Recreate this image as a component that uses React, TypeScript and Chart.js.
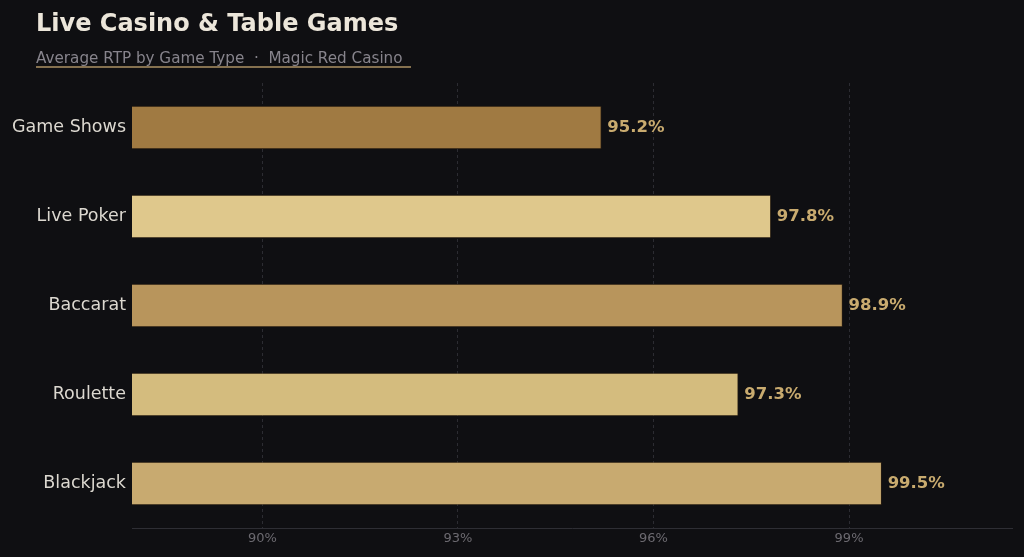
import React, { useEffect, useRef } from "react";
import { Chart, registerables } from "chart.js";

Chart.register(...registerables);

const categories = ["Game Shows", "Live Poker", "Baccarat", "Roulette", "Blackjack"];
const rtpValues = [95.2, 97.8, 98.9, 97.3, 99.5];
const barColors = ["#a07a42", "#dfc88c", "#b8955c", "#d4bc7e", "#c8aa70"];
const xTickValues = [90, 93, 96, 99];
const xMin = 88;
const xMax = 101.5;

const FONT = "'DejaVu Sans', sans-serif";

const valueLabelPlugin = {
  id: "valueLabels",
  afterDatasetsDraw(chart: any) {
    const ctx = chart.ctx;
    const meta = chart.getDatasetMeta(0);
    ctx.save();
    ctx.font = `bold 16.5px ${FONT}`;
    ctx.fillStyle = "#c9ab6f";
    ctx.textAlign = "left";
    ctx.textBaseline = "middle";
    meta.data.forEach((bar: any, i: number) => {
      ctx.fillText(rtpValues[i].toFixed(1) + "%", bar.x + 6, bar.y);
    });
    ctx.restore();
  },
};

export default function App() {
  const canvasRef = useRef<HTMLCanvasElement>(null);

  useEffect(() => {
    document.body.style.margin = "0";
    document.body.style.background = "#0f0f12";
    const chart = new Chart(canvasRef.current!, {
      type: "bar",
      data: {
        labels: categories,
        datasets: [
          {
            data: rtpValues,
            backgroundColor: barColors,
            borderColor: "rgba(60,40,15,0.45)",
            borderWidth: 1,
            barThickness: 43,
            base: xMin,
          } as any,
        ],
      },
      options: {
        indexAxis: "y",
        animation: false,
        responsive: false,
        maintainAspectRatio: false,
        layout: { padding: { top: 83, right: 12, bottom: 0, left: 0 } },
        plugins: { legend: { display: false }, tooltip: { enabled: false } },
        scales: {
          x: {
            min: xMin,
            max: xMax,
            afterBuildTicks(scale: any) {
              scale.ticks = xTickValues.map((v) => ({ value: v }));
            },
            afterFit(scale: any) {
              scale.height = 29;
            },
            ticks: {
              color: "#6c6a70",
              font: { family: FONT, size: 13 },
              padding: 3,
              callback: (v: any) => v + "%",
            },
            grid: { color: "#2c2c32", drawTicks: false, lineWidth: 1 },
            border: { display: true, color: "#2e2e34", width: 1, dash: [3, 3] },
          },
          y: {
            afterFit(scale: any) {
              scale.width = 132;
            },
            ticks: {
              color: "#dcd8d0",
              font: { family: FONT, size: 17.5 },
              padding: 6,
            },
            grid: { display: false, drawTicks: false },
            border: { display: false },
          },
        },
      },
      plugins: [valueLabelPlugin],
    });
    return () => chart.destroy();
  }, []);

  return (
    <div style={{ position: "relative", width: 1024, height: 557, background: "#0f0f12", overflow: "hidden" }}>
      <canvas ref={canvasRef} width={1024} height={557} style={{ position: "absolute", left: 0, top: 0 }} />
      <div
        style={{
          position: "absolute",
          left: 36,
          top: 9,
          fontFamily: FONT,
          fontWeight: "bold",
          fontSize: 24,
          lineHeight: "28px",
          color: "#ece6da",
          whiteSpace: "nowrap",
        }}
      >
        Live Casino &amp; Table Games
      </div>
      <div
        style={{
          position: "absolute",
          left: 36,
          top: 50,
          fontFamily: FONT,
          fontSize: 15.2,
          lineHeight: "16px",
          color: "#87848c",
          whiteSpace: "pre",
          paddingRight: 8,
          borderBottom: "2px solid #85714f",
        }}
      >
        {"Average RTP by Game Type  ·  Magic Red Casino"}
      </div>
    </div>
  );
}
